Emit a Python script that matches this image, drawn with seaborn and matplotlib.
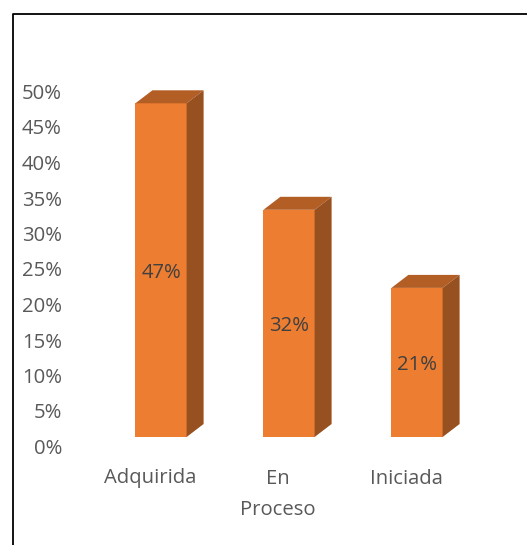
import pandas as pd
import seaborn as sns
import matplotlib.pyplot as plt
from matplotlib.patches import Polygon
from matplotlib.lines import Line2D
from matplotlib.transforms import ScaledTranslation

# chart values
categorias = ['Adquirida', 'En\nProceso', 'Iniciada']
porcentajes = [47, 32, 21]
ticks_y = [0, 5, 10, 15, 20, 25, 30, 35, 40, 45, 50]

W, H = 527, 545
DPI = 100
FRONT = '#ED7D31'
TOP = '#B25E25'
SIDE = '#97501F'
TXT = '#595959'

sns.set_theme(style='white')
plt.rcParams['font.family'] = ['Open Sans', 'DejaVu Sans']

df = pd.DataFrame({'categoria': categorias, 'valor': porcentajes})

fig = plt.figure(figsize=(W / DPI, H / DPI), dpi=DPI)
# axes box in pixels: x 97-481, y 82-437 from the top
ax = fig.add_axes([97 / W, 1 - 437 / H, (481 - 97) / W, (437 - 82) / H])
sns.barplot(data=df, x='categoria', y='valor', color=FRONT, saturation=1, width=0.4,
            linewidth=0, ax=ax)
ax.set_xlim(-0.5, 2.5)
ax.set_ylim(0, 50)
ax.set_xlabel('')
ax.set_ylabel('')
sns.despine(ax=ax, left=True, bottom=True)
ax.patch.set_alpha(0)

# fake 3d depth, in pixels
dx, dy = 17, 13
to_px = ax.transData
to_data = ax.transData.inverted()
for bar in ax.patches[:]:
    x0, y0 = to_px.transform((bar.get_x(), 0))
    x1, y1 = to_px.transform((bar.get_x() + bar.get_width(), bar.get_height()))
    top = [(x0, y1), (x1, y1), (x1 + dx, y1 + dy), (x0 + dx, y1 + dy)]
    side = [(x1, y0), (x1 + dx, y0 + dy), (x1 + dx, y1 + dy), (x1, y1)]
    ax.add_patch(Polygon(to_data.transform(top), color=TOP, lw=0, clip_on=False))
    ax.add_patch(Polygon(to_data.transform(side), color=SIDE, lw=0, clip_on=False))

etiquetas = ax.bar_label(ax.containers[0], labels=[f'{v}%' for v in porcentajes],
                         label_type='center', color='#404040', fontsize=14.6)
for t in etiquetas:
    t.set_y(t.get_position()[1] - 2)

ax.set_yticks(ticks_y)
ax.set_yticklabels([f'{t}%' for t in ticks_y])
ax.tick_params(axis='y', length=0, labelsize=14.6, labelcolor=TXT, pad=0)
ax.tick_params(axis='x', length=0, labelsize=14.6, labelcolor=TXT, pad=0)

# labels sit off the front plane, like the original
for lab in ax.get_yticklabels():
    lab.set_transform(lab.get_transform() + ScaledTranslation(-35 / DPI, -9.5 / DPI, fig.dpi_scale_trans))
for lab in ax.get_xticklabels():
    lab.set_linespacing(1.75)
    lab.set_transform(lab.get_transform() + ScaledTranslation(-11 / DPI, -31.5 / DPI, fig.dpi_scale_trans))

# chart frame
fig.add_artist(Line2D([12.5 / W, 12.5 / W, 1], [0, 1 - 13.5 / H, 1 - 13.5 / H], color='black', lw=1.3))

fig.savefig('out.png', dpi=DPI)
